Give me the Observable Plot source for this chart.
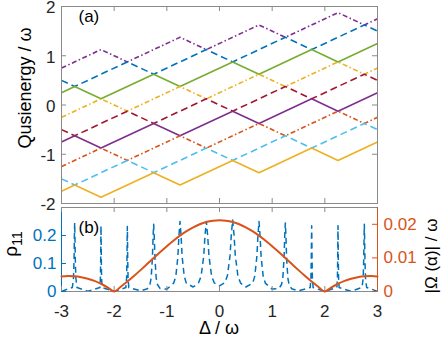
<!DOCTYPE html>
<html><head><meta charset="utf-8">
<script src="https://cdn.jsdelivr.net/npm/d3@7"></script>
<script src="https://cdn.jsdelivr.net/npm/@observablehq/plot@0.6"></script>
<style>
body{margin:0;background:#fff;}
#wrap{position:relative;width:443px;height:337px;overflow:hidden;background:#fff;font-family:"Liberation Sans",Arial,sans-serif;}
#wrap svg{position:absolute;left:0;top:0;}
</style></head><body><div id="wrap"></div>
<script>
// ---------- axes / ticks ----------
const xDomain = [-3, 3];
const xTicks = [-3, -2, -1, 0, 1, 2, 3];
const yDomainTop = [-2, 2];
const yTicksTop = [-2, -1, 0, 1, 2];
const rhoDomain = [0, 0.3];
const rhoTicks = [0, 0.1, 0.2];
const omegaDomain = [0, 0.025];
const omegaTicks = [0, 0.01, 0.02];

// ---------- panel (a): quasienergy vertices ----------
const xSolid   = [-3, -2.75, -2.25, -1.25, -0.75, 0.25, 0.75, 1.75, 2.25, 3];
const xDashDot = [-3, -2.25, -1.75, -0.75, -0.25, 0.75, 1.25, 2.25, 2.75, 3];
const xDashed  = [-3, -2.75, -1.75, -1.25, -0.25, 0.25, 1.25, 1.75, 2.75, 3];

const greenSolid  = [0.25, 0.375, 0.125, 0.625, 0.375, 0.875, 0.625, 1.125, 0.875, 1.25];
const purpleSolid = [-0.75, -0.625, -0.875, -0.375, -0.625, -0.125, -0.375, 0.125, -0.125, 0.25];
const yellowSolid = [-1.75, -1.625, -1.875, -1.375, -1.625, -1.125, -1.375, -0.875, -1.125, -0.75];

const purpleDashDot = [0.75, 1.125, 0.875, 1.375, 1.125, 1.625, 1.375, 1.875, 1.625, 1.75];
const yellowDashDot = [-0.25, 0.125, -0.125, 0.375, 0.125, 0.625, 0.375, 0.875, 0.625, 0.75];
const orangeDashDot = [-1.25, -0.875, -1.125, -0.625, -0.875, -0.375, -0.625, -0.125, -0.375, -0.25];

const blueDashed      = [0.5, 0.375, 0.875, 0.625, 1.125, 0.875, 1.375, 1.125, 1.625, 1.5];
const redDashed       = [-0.5, -0.625, -0.125, -0.375, 0.125, -0.125, 0.375, 0.125, 0.625, 0.5];
const lightBlueDashed = [-1.5, -1.625, -1.125, -1.375, -0.875, -1.125, -0.625, -0.875, -0.375, -0.5];

// ---------- panel (b): rho11 ----------
const rhoDelta = [-3,-2.794,-2.772,-2.761,-2.7555,-2.75,-2.7445,-2.739,-2.728,-2.706,-2.5,
  -2.272,-2.261,-2.2555,-2.2528,-2.25,-2.2472,-2.2445,-2.239,-2.228,-2,
  -1.778,-1.764,-1.757,-1.7535,-1.75,-1.7465,-1.743,-1.736,-1.722,-1.5,
  -1.37,-1.322,-1.298,-1.274,-1.262,-1.25,-1.238,-1.226,-1.202,-1.178,-1.13,-1,
  -0.87,-0.83,-0.79,-0.77,-0.75,-0.73,-0.71,-0.67,-0.63,-0.5,
  -0.4,-0.35,-0.3,-0.275,-0.25,-0.225,-0.2,-0.15,-0.1,0,
  0.1,0.15,0.2,0.225,0.25,0.275,0.3,0.35,0.4,0.5,
  0.63,0.67,0.71,0.73,0.75,0.77,0.79,0.83,0.87,1,
  1.13,1.178,1.202,1.226,1.238,1.25,1.262,1.274,1.298,1.322,1.37,1.5,
  1.722,1.736,1.743,1.7465,1.75,1.7535,1.757,1.764,1.778,2,
  2.228,2.239,2.2445,2.2472,2.25,2.2528,2.2555,2.261,2.272,2.5,
  2.706,2.728,2.739,2.7445,2.75,2.7555,2.761,2.772,2.794,3];
const rho11 = [0.0005,0.0145,0.049,0.1225,0.196,0.245,0.196,0.1225,0.049,0.0145,0.0008,
  0.014,0.047,0.118,0.188,0.235,0.188,0.118,0.047,0.014,0.0004,
  0.014,0.046,0.116,0.186,0.232,0.186,0.116,0.046,0.014,0.0025,
  0.0095,0.024,0.048,0.12,0.192,0.24,0.192,0.12,0.048,0.025,0.011,0.0085,
  0.03,0.053,0.125,0.2,0.25,0.2,0.126,0.055,0.03,0.016,
  0.03,0.054,0.126,0.2,0.25,0.2,0.127,0.055,0.031,0.02,
  0.031,0.056,0.128,0.204,0.255,0.204,0.128,0.055,0.03,0.016,
  0.03,0.055,0.126,0.2,0.25,0.2,0.125,0.053,0.03,0.0085,
  0.011,0.025,0.048,0.12,0.196,0.245,0.196,0.12,0.048,0.024,0.0095,0.0025,
  0.014,0.047,0.118,0.188,0.235,0.188,0.118,0.047,0.014,0.0004,
  0.014,0.047,0.118,0.188,0.235,0.188,0.118,0.047,0.014,0.0008,
  0.0145,0.048,0.12,0.192,0.24,0.192,0.12,0.048,0.0145,0.0005];

// ---------- panel (b): |Omega(alpha)| / omega ----------
const omegaDelta = [-3,-2.875,-2.75,-2.625,-2.5,-2.375,-2.25,-2.125,-2,-1.875,-1.75,-1.625,-1.5,-1.375,-1.25,-1.125,-1,
  -0.875,-0.75,-0.625,-0.5,-0.375,-0.25,-0.125,0,0.125,0.25,0.375,0.5,0.625,0.75,0.875,
  1,1.125,1.25,1.375,1.5,1.625,1.75,1.875,2,2.125,2.25,2.375,2.5,2.625,2.75,2.875,3];
const omegaAbs = [0.0045,0.0046,0.00453,0.00427,0.00382,0.00316,0.0023,0.00124,0,0.0014,0.00295,0.00461,0.00636,0.00816,0.00998,0.01177,0.0135,
  0.01513,0.01663,0.01795,0.01909,0.02,0.02066,0.02106,0.0212,0.02106,0.02066,0.02,0.01909,0.01795,0.01663,0.01513,
  0.0135,0.01177,0.00998,0.00816,0.00636,0.00461,0.00295,0.0014,0,0.00124,0.0023,0.00316,0.00382,0.00427,0.00453,0.0046,0.0045];

// ---------- styling ----------
const FONT = "Liberation Sans, Arial, sans-serif";
const C = {blue:"#0072BD", orange:"#D95319", yellow:"#EDB120", purple:"#7E2F8E", green:"#77AC30", lightBlue:"#4DBEEE", red:"#A2142F"};
const FRAME = "#8a8a8a", TXT = "#262626";
const W = 443, H = 337, ML = 61, MR = 66;
const innerW = W - ML - MR;
const DASH = "7,4", DASHDOT = "5,2.5,1.5,2.5";

function plotPanel(marginTop, marginBottom, yDomain, marks) {
  return Plot.plot({
    width: W, height: H, marginLeft: ML, marginRight: MR, marginTop, marginBottom,
    x: {domain: xDomain, axis: null}, y: {domain: yDomain, axis: null},
    style: {background: "transparent", overflow: "visible", fontFamily: FONT, fontSize: "17px", color: TXT},
    marks
  });
}
const ser = (xs, ys, stroke, dash, sw = 1.6) =>
  Plot.line(ys, {x: (d, i) => xs[i], y: d => d, stroke, strokeWidth: sw, strokeDasharray: dash, strokeLinecap: "butt", strokeLinejoin: "miter"});

// Panel (a)
const topMT = 6, topMB = H - 203, topIH = H - topMT - topMB;
const panelA = plotPanel(topMT, topMB, yDomainTop, [
  ser(xDashDot, purpleDashDot, C.purple, DASHDOT),
  ser(xDashed, blueDashed, C.blue, DASH),
  ser(xSolid, greenSolid, C.green, null),
  ser(xDashDot, yellowDashDot, C.yellow, DASHDOT),
  ser(xDashed, redDashed, C.red, DASH),
  ser(xSolid, purpleSolid, C.purple, null),
  ser(xDashDot, orangeDashDot, C.orange, DASHDOT),
  ser(xDashed, lightBlueDashed, C.lightBlue, DASH),
  ser(xSolid, yellowSolid, C.yellow, null),
  Plot.frame({stroke: FRAME}),
  Plot.tickX(xTicks, {x: d => d, stroke: FRAME, insetTop: topIH - 5}),
  Plot.tickX(xTicks, {x: d => d, stroke: FRAME, insetBottom: topIH - 5}),
  Plot.tickY(yTicksTop, {y: d => d, stroke: FRAME, insetRight: innerW - 5}),
  Plot.tickY(yTicksTop, {y: d => d, stroke: FRAME, insetLeft: innerW - 5}),
  Plot.axisY({ticks: yTicksTop, anchor: "left", tickSize: 0, tickPadding: 6, dy: 1.5, tickFormat: d => String(d), label: null, fill: TXT}),
  Plot.text(["(a)"], {frameAnchor: "top-left", dx: 17, dy: 3, fontSize: 17, fill: "#000"})
]);

// Panel (b) left (rho11)
const botMT = 207, botMB = H - 291, botIH = H - botMT - botMB;
const panelBL = plotPanel(botMT, botMB, rhoDomain, [
  Plot.line(rho11, {x: (d, i) => rhoDelta[i], y: d => d, stroke: C.blue, strokeWidth: 1.5, strokeDasharray: "6,4", strokeLinecap: "butt"}),
  Plot.frame({stroke: FRAME}),
  Plot.ruleX([xDomain[0]], {stroke: C.blue}),
  Plot.tickX(xTicks, {x: d => d, stroke: FRAME, insetTop: botIH - 5}),
  Plot.tickX(xTicks, {x: d => d, stroke: FRAME, insetBottom: botIH - 5}),
  Plot.tickY(rhoTicks, {y: d => d, stroke: C.blue, insetRight: innerW - 5}),
  Plot.axisY({ticks: rhoTicks, anchor: "left", tickSize: 0, tickPadding: 5, tickFormat: d => String(d), label: null, fill: C.blue}),
  Plot.axisX({ticks: xTicks, anchor: "bottom", tickSize: 0, tickPadding: 13, tickFormat: d => String(d), label: null, fill: TXT}),
  Plot.text(["(b)"], {frameAnchor: "top-left", dx: 17, dy: 13, fontSize: 17, fill: "#000"})
]);

// Panel (b) right (|Omega|)
const panelBR = plotPanel(botMT, botMB, omegaDomain, [
  Plot.line(omegaAbs, {x: (d, i) => omegaDelta[i], y: d => d, stroke: C.orange, strokeWidth: 2, curve: "monotone-x"}),
  Plot.ruleX([xDomain[1]], {stroke: C.orange}),
  Plot.tickY(omegaTicks, {y: d => d, stroke: C.orange, insetLeft: innerW - 5}),
  Plot.axisY({ticks: omegaTicks, anchor: "right", tickSize: 0, tickPadding: 6, tickFormat: d => String(d), label: null, fill: C.orange})
]);

const wrap = document.getElementById("wrap");
wrap.append(panelA, panelBL, panelBR);

// axis titles
function addText(sel, x, y, rot, size, txt) {
  return sel.append("text")
    .attr("transform", `translate(${x},${y}) rotate(${rot})`)
    .attr("text-anchor", "middle").attr("font-size", size).attr("font-family", FONT).attr("fill", "#000")
    .text(txt);
}
addText(d3.select(panelA), 31, 88, -90, 18, "Qusienergy / \u03c9");
const rl = d3.select(panelBL).append("text")
  .attr("transform", "translate(17,244) rotate(-90)")
  .attr("text-anchor", "middle").attr("font-size", 19).attr("font-family", FONT).attr("fill", "#000");
rl.append("tspan").text("\u03c1");
rl.append("tspan").attr("dy", "0.35em").attr("font-size", 14).text("11");
addText(d3.select(panelBR), 437, 256, -90, 17, "|\u03a9 (\u03b1)| / \u03c9");
addText(d3.select(panelBR), 219, 334, 0, 18, "\u0394 / \u03c9");
</script></body></html>
